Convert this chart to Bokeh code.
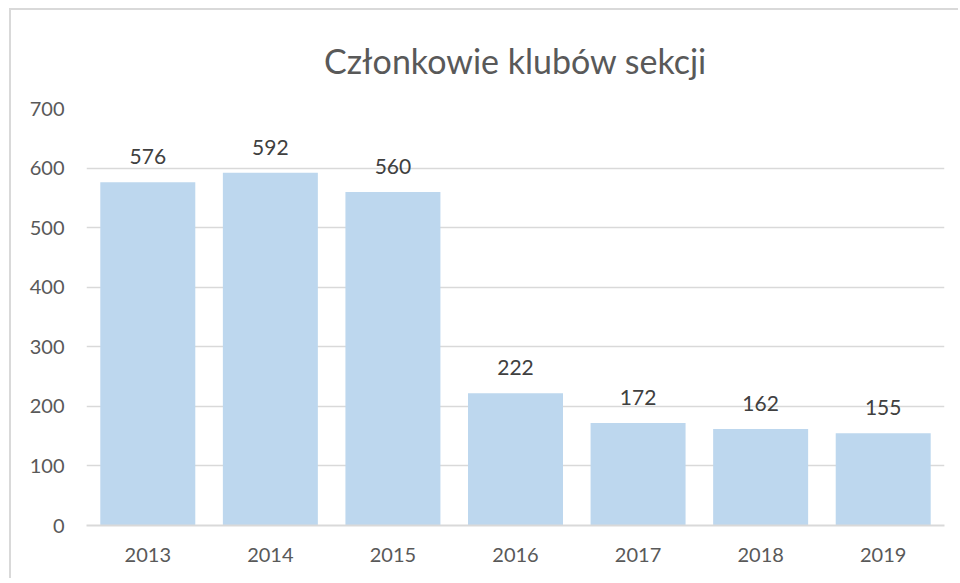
from bokeh.plotting import figure
from bokeh.models import ColumnDataSource, LabelSet, FixedTicker
from bokeh.core.properties import value
from bokeh.embed import file_html
from bokeh.resources import INLINE

years = ["2013", "2014", "2015", "2016", "2017", "2018", "2019"]
members = [576, 592, 560, 222, 172, 162, 155]
y_ticks = [0, 100, 200, 300, 400, 500, 600, 700]
title_text = "Członkowie klubów sekcji"

FONT = "Lato"
src = ColumnDataSource(dict(year=years, val=members, lbl=[str(v) for v in members]))

W, H = 949, 570
p = figure(x_range=years, y_range=(0, 700), width=W, height=H,
           output_backend="svg", toolbar_location=None,
           min_border_left=75, min_border_right=16, min_border_top=98, min_border_bottom=55)

p.title.text = title_text
p.title.align = "center"
p.title.vertical_align = "bottom"
p.title.text_font = FONT
p.title.text_font_size = "34px"
p.title.text_font_style = "normal"
p.title.text_color = "#595959"
p.title.standoff = 55

p.vbar(x="year", top="val", width=0.775, source=src, color="#BDD7EE", line_color=None)

labels = LabelSet(x="year", y="val", text="lbl", source=src, text_align="center",
                  text_baseline="bottom", y_offset=18, text_font_size="21px",
                  text_color="#404040", text_font=value(FONT))
p.add_layout(labels)

p.outline_line_color = None
p.background_fill_color = "white"
p.border_fill_color = "white"
p.xgrid.grid_line_color = None
p.ygrid.grid_line_color = "#d9d9d9"
p.ygrid.grid_line_width = 1.5
p.yaxis.ticker = FixedTicker(ticks=y_ticks)
p.yaxis.axis_line_color = None
p.yaxis.major_tick_line_color = None
p.yaxis.minor_tick_line_color = None
p.yaxis.major_label_standoff = 16
p.yaxis.major_label_text_font = FONT
p.yaxis.major_label_text_font_size = "20px"
p.yaxis.major_label_text_color = "#595959"
p.xaxis.axis_line_color = "#d9d9d9"
p.xaxis.axis_line_width = 2
p.xaxis.major_tick_line_color = None
p.xaxis.minor_tick_line_color = None
p.xaxis.major_label_standoff = 16
p.xaxis.major_label_text_font = FONT
p.xaxis.major_label_text_font_size = "20px"
p.xaxis.major_label_text_color = "#595959"
p.x_range.range_padding = 0
p.styles = {"margin-left": "11px", "margin-top": "10px",
            "box-shadow": "-2px -2px 0 0 #d9d9d9"}

open("out.html", "w").write(file_html(p, INLINE))
